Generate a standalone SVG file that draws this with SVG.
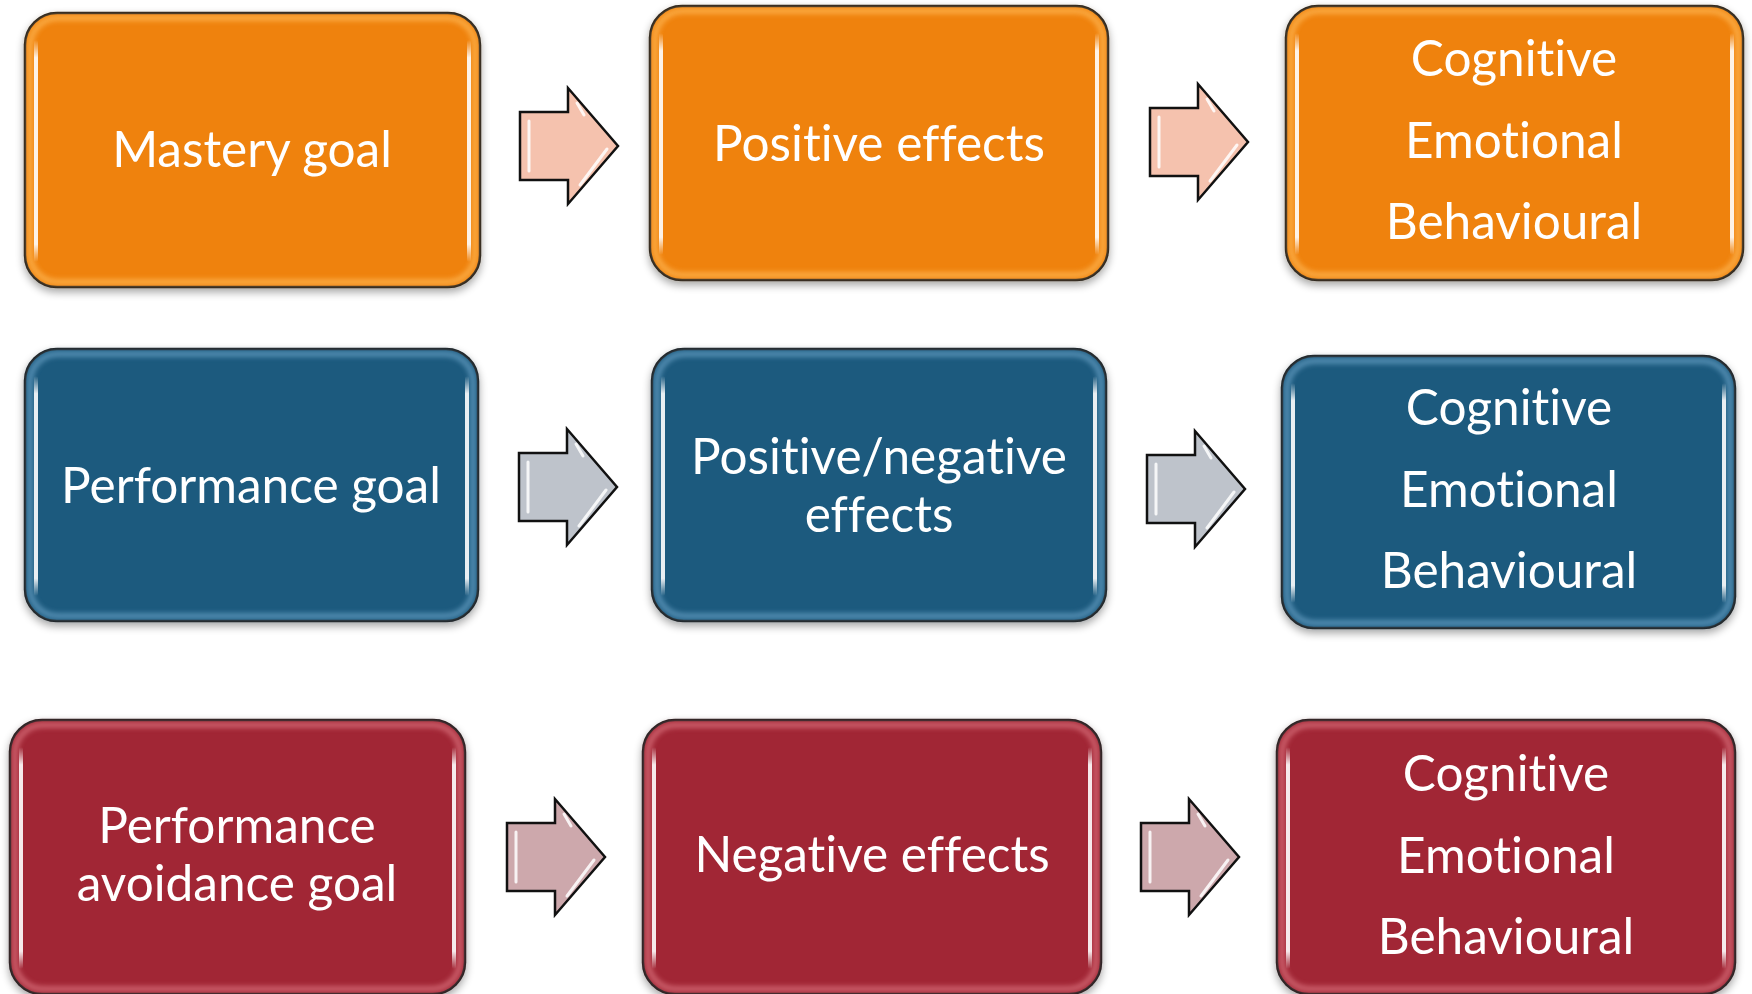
<svg xmlns="http://www.w3.org/2000/svg" xmlns:xlink="http://www.w3.org/1999/xlink" width="1752" height="994" viewBox="0 0 1752 994">
  <style>
    .box { stroke: #1c1c1c; stroke-width: 2.5; }
    .orange .box { fill: #EF820F; }
    .blue .box { fill: #1F5A7E; }
    .red .box { fill: #A12836; }
    .glow { fill: none; stroke-width: 6; filter: url(#soft); opacity: 0.8; }
    .orange .glow { stroke: #FDB24E; }
    .blue .glow { stroke: #5E97BC; }
    .red .glow { stroke: #D46A76; }
    .shine { fill: url(#shineGrad); }
    .label { font-family: Lato, "Open Sans", "Liberation Sans", sans-serif; font-size: 49.5px; fill: #ffffff; text-anchor: middle; font-variant-ligatures: none; font-feature-settings: "liga" 0, "clig" 0; }
    .arrow { stroke: #111; stroke-width: 2.5; stroke-linejoin: miter; }
    .a-orange { fill: #F5C2AE; }
    .a-blue { fill: #BEC3CB; }
    .a-red { fill: #CDA8AC; }
    .bevel { fill: none; stroke: #ffffff; stroke-width: 3; stroke-linecap: round; opacity: 0.85; }
  </style>
  <defs>
    <filter id="shadow" x="-10%" y="-10%" width="120%" height="125%">
      <feGaussianBlur in="SourceAlpha" stdDeviation="4"/>
      <feOffset dx="0" dy="4" result="b"/>
      <feComponentTransfer><feFuncA type="linear" slope="0.35"/></feComponentTransfer>
      <feMerge><feMergeNode/><feMergeNode in="SourceGraphic"/></feMerge>
    </filter>
    <filter id="soft" x="-5%" y="-5%" width="110%" height="110%">
      <feGaussianBlur stdDeviation="2.5"/>
    </filter>
    <linearGradient id="shineGrad" x1="0" y1="0" x2="0" y2="1">
      <stop offset="0" stop-color="#fff" stop-opacity="0"/>
      <stop offset="0.08" stop-color="#fff" stop-opacity="0.9"/>
      <stop offset="0.92" stop-color="#fff" stop-opacity="0.9"/>
      <stop offset="1" stop-color="#fff" stop-opacity="0"/>
    </linearGradient>
    <path id="arrowShape" d="M0,24 H48 V0 L98,58 L48,116 V92 H0 Z"/>
    <g id="arrowBevel">
      <path class="bevel" d="M9,33 V83"/>
      <path class="bevel" d="M87,61 L60,97"/>
      <path class="bevel" d="M57,15 L64,27" opacity="0.6"/>
    </g>
  </defs>

  <rect width="1752" height="994" fill="#ffffff"/>

  <!-- connectors: block arrows between the boxes -->
  <g id="connectors">
    <g transform="translate(520,88)"><use xlink:href="#arrowShape" class="arrow a-orange"/><use xlink:href="#arrowBevel"/></g>
    <g transform="translate(1150,84)"><use xlink:href="#arrowShape" class="arrow a-orange"/><use xlink:href="#arrowBevel"/></g>
    <g transform="translate(519,429)"><use xlink:href="#arrowShape" class="arrow a-blue"/><use xlink:href="#arrowBevel"/></g>
    <g transform="translate(1147,431)"><use xlink:href="#arrowShape" class="arrow a-blue"/><use xlink:href="#arrowBevel"/></g>
    <g transform="translate(507,799)"><use xlink:href="#arrowShape" class="arrow a-red"/><use xlink:href="#arrowBevel"/></g>
    <g transform="translate(1141,799)"><use xlink:href="#arrowShape" class="arrow a-red"/><use xlink:href="#arrowBevel"/></g>
  </g>

  <!-- row 1: mastery goal -->
  <g id="mastery-goal" class="orange">
    <rect class="box" x="25" y="13" width="455" height="274" rx="32" filter="url(#shadow)"/>
    <rect class="glow" x="30" y="18" width="445" height="264" rx="28"/>
    <rect class="shine" x="34" y="40" width="4" height="222" rx="2"/>
    <rect class="shine" x="467" y="40" width="4" height="222" rx="2"/>
    <text class="label" x="252" y="167">Mastery goal</text>
  </g>
  <g id="positive-effects" class="orange">
    <rect class="box" x="650" y="6" width="458" height="274" rx="32" filter="url(#shadow)"/>
    <rect class="glow" x="655" y="11" width="448" height="264" rx="28"/>
    <rect class="shine" x="659" y="33" width="4" height="222" rx="2"/>
    <rect class="shine" x="1095" y="33" width="4" height="222" rx="2"/>
    <text class="label" x="879" y="161">Positive effects</text>
  </g>
  <g id="outcomes-1" class="orange">
    <rect class="box" x="1286" y="6" width="457" height="274" rx="32" filter="url(#shadow)"/>
    <rect class="glow" x="1291" y="11" width="447" height="264" rx="28"/>
    <rect class="shine" x="1295" y="33" width="4" height="222" rx="2"/>
    <rect class="shine" x="1730" y="33" width="4" height="222" rx="2"/>
    <text class="label" x="1514" y="76">Cognitive</text>
    <text class="label" x="1514" y="158">Emotional</text>
    <text class="label" x="1514" y="239">Behavioural</text>
  </g>

  <!-- row 2: performance goal -->
  <g id="performance-goal" class="blue">
    <rect class="box" x="25" y="349" width="453" height="272" rx="32" filter="url(#shadow)"/>
    <rect class="glow" x="30" y="354" width="443" height="262" rx="28"/>
    <rect class="shine" x="34" y="376" width="4" height="220" rx="2"/>
    <rect class="shine" x="465" y="376" width="4" height="220" rx="2"/>
    <text class="label" x="251" y="503">Performance goal</text>
  </g>
  <g id="mixed-effects" class="blue">
    <rect class="box" x="652" y="349" width="454" height="272" rx="32" filter="url(#shadow)"/>
    <rect class="glow" x="657" y="354" width="444" height="262" rx="28"/>
    <rect class="shine" x="661" y="376" width="4" height="220" rx="2"/>
    <rect class="shine" x="1093" y="376" width="4" height="220" rx="2"/>
    <text class="label" x="879" y="474">Positive/negative</text>
    <text class="label" x="879" y="532">effects</text>
  </g>
  <g id="outcomes-2" class="blue">
    <rect class="box" x="1282" y="356" width="453" height="272" rx="32" filter="url(#shadow)"/>
    <rect class="glow" x="1287" y="361" width="443" height="262" rx="28"/>
    <rect class="shine" x="1291" y="383" width="4" height="220" rx="2"/>
    <rect class="shine" x="1722" y="383" width="4" height="220" rx="2"/>
    <text class="label" x="1509" y="425">Cognitive</text>
    <text class="label" x="1509" y="507">Emotional</text>
    <text class="label" x="1509" y="588">Behavioural</text>
  </g>

  <!-- row 3: performance avoidance goal -->
  <g id="avoidance-goal" class="red">
    <rect class="box" x="10" y="720" width="455" height="274" rx="32" filter="url(#shadow)"/>
    <rect class="glow" x="15" y="725" width="445" height="264" rx="28"/>
    <rect class="shine" x="19" y="747" width="4" height="222" rx="2"/>
    <rect class="shine" x="452" y="747" width="4" height="222" rx="2"/>
    <text class="label" x="237" y="843">Performance</text>
    <text class="label" x="237" y="901">avoidance goal</text>
  </g>
  <g id="negative-effects" class="red">
    <rect class="box" x="643" y="720" width="458" height="274" rx="32" filter="url(#shadow)"/>
    <rect class="glow" x="648" y="725" width="448" height="264" rx="28"/>
    <rect class="shine" x="652" y="747" width="4" height="222" rx="2"/>
    <rect class="shine" x="1088" y="747" width="4" height="222" rx="2"/>
    <text class="label" x="872" y="872">Negative effects</text>
  </g>
  <g id="outcomes-3" class="red">
    <rect class="box" x="1277" y="720" width="458" height="274" rx="32" filter="url(#shadow)"/>
    <rect class="glow" x="1282" y="725" width="448" height="264" rx="28"/>
    <rect class="shine" x="1286" y="747" width="4" height="222" rx="2"/>
    <rect class="shine" x="1722" y="747" width="4" height="222" rx="2"/>
    <text class="label" x="1506" y="791">Cognitive</text>
    <text class="label" x="1506" y="873">Emotional</text>
    <text class="label" x="1506" y="954">Behavioural</text>
  </g>
</svg>
